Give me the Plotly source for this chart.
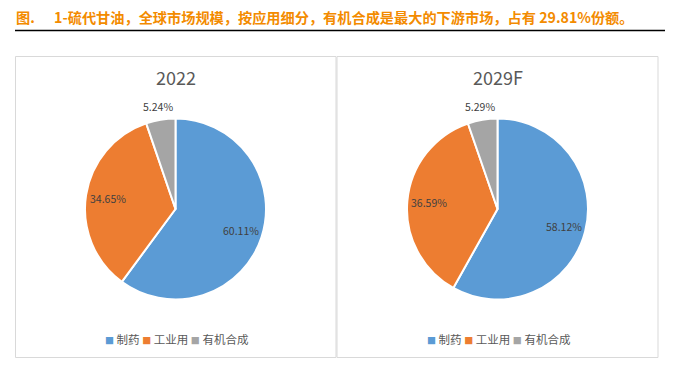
import math
import plotly.graph_objects as go

categories = ["制药", "工业用", "有机合成"]
share_2022 = [60.11, 34.65, 5.24]
share_2029 = [58.12, 36.59, 5.29]
years = ["2022", "2029F"]
colors = ["#5B9BD5", "#ED7D31", "#A5A5A5"]
header = "图.&nbsp;&nbsp;&nbsp;&nbsp;&nbsp;&nbsp;1-硫代甘油，全球市场规模，按应用细分，有机合成是最大的下游市场，占有 29.81%份额。"

W, H = 673, 371
FONT = "Noto Sans CJK SC"
TXT = "#404040"

def px(x):
    return x / W

def py(y):
    return 1 - y / H

fig = go.Figure()

centers = [175.5, 497.5]
cy, r = 209, 90.5
label_r = [0.76, 0.76, 1.15]
for i, (vals, name) in enumerate(zip([share_2022, share_2029], years)):
    cx = centers[i]
    fig.add_trace(go.Pie(
        labels=categories, values=vals, sort=False, direction="clockwise",
        rotation=0,
        marker=dict(colors=colors, line=dict(color="white", width=2)),
        textinfo="none",
        domain=dict(x=[px(cx - r), px(cx + r)], y=[py(cy + r), py(cy - r)]),
        hoverinfo="label+percent",
        showlegend=False,
    ))
    # data labels placed at each slice's mid-angle (computed from the values)
    total = sum(vals)
    cum = 0.0
    for j, v in enumerate(vals):
        mid = (cum + v / 2) / total * 2 * math.pi
        cum += v
        lx = cx + label_r[j] * r * math.sin(mid)
        ly = cy - label_r[j] * r * math.cos(mid)
        fig.add_annotation(text=f"{v:.2f}%", x=px(lx), y=py(ly), xref="paper", yref="paper",
                           showarrow=False, xanchor="center", yanchor="middle",
                           font=dict(family=FONT, size=10.5, color=TXT))
    fig.add_annotation(text=name, x=px(cx), y=py(77), xref="paper", yref="paper",
                       showarrow=False, font=dict(family=FONT, size=18, color="#595959"),
                       xanchor="center", yanchor="middle")
    # legend row
    parts = []
    for c, lab in zip(colors, categories):
        parts.append(f'<span style="color:{c};font-size:9px">■</span>&nbsp;{lab}')
    fig.add_annotation(text="&nbsp;".join(parts), x=px(cx + 1), y=py(339), xref="paper", yref="paper",
                       showarrow=False, xanchor="center", yanchor="middle",
                       font=dict(family=FONT, size=11.5, color="#595959"))

# header
fig.add_annotation(text="<b>" + header + "</b>", x=px(14), y=py(17), xref="paper", yref="paper",
                   showarrow=False, xanchor="left", yanchor="middle",
                   font=dict(family=FONT, size=14.2, color="#F38B00"))

shapes = [
    dict(type="line", xref="paper", yref="paper", x0=px(15), x1=px(665), y0=py(30.5), y1=py(30.5),
         line=dict(color="black", width=1.5)),
    dict(type="rect", xref="paper", yref="paper", x0=px(15.5), x1=px(336), y0=py(56.5), y1=py(357.5),
         line=dict(color="#D9D9D9", width=1)),
    dict(type="rect", xref="paper", yref="paper", x0=px(337), x1=px(658), y0=py(56.5), y1=py(357.5),
         line=dict(color="#D9D9D9", width=1)),
]

fig.update_layout(
    width=W, height=H,
    margin=dict(l=0, r=0, t=0, b=0),
    paper_bgcolor="white", plot_bgcolor="white",
    shapes=shapes,
    showlegend=False,
)

fig.write_html("out.html", config={"displayModeBar": False},
               post_script="document.body.style.margin='0';document.body.style.padding='0';")
